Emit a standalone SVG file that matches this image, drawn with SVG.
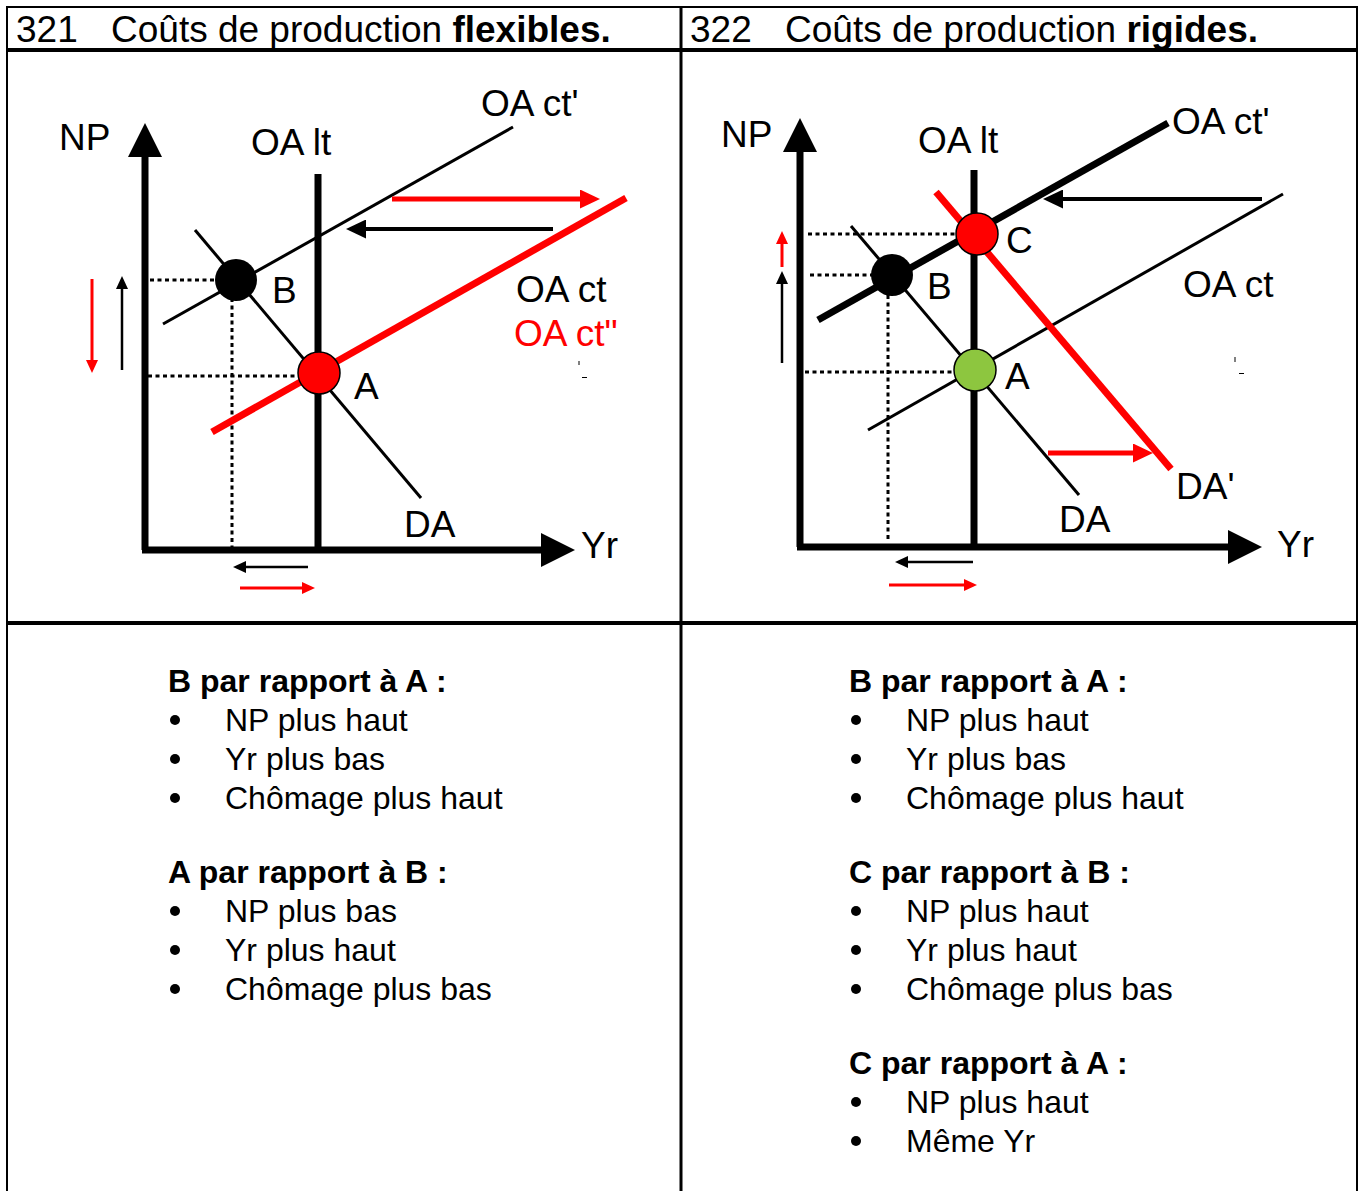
<svg xmlns="http://www.w3.org/2000/svg" width="1362" height="1191" viewBox="0 0 1362 1191">
<style>
text{font-family:"Liberation Sans",Arial,sans-serif;fill:#000}
.hd{font-size:37px}
.lb{font-size:37px}
.red{fill:#ff0000}
.bl{font-size:32px}
.bb{font-size:32px;font-weight:bold}
.grid{stroke:#000;fill:none}
.axis{stroke:#000;stroke-width:7;fill:none}
.thin{stroke:#000;stroke-width:3;fill:none}
.thick{stroke:#000;stroke-width:7;fill:none}
.rthick{stroke:#ff0000;stroke-width:7;fill:none}
.dot{stroke:#000;stroke-width:3;stroke-dasharray:4 3.5;fill:none}
.k4{stroke:#000;stroke-width:4;fill:none}
.r4{stroke:#ff0000;stroke-width:5;fill:none}
.ks{stroke:#000;stroke-width:2.5;fill:none}
.rs{stroke:#ff0000;stroke-width:3;fill:none}
.tick{stroke:#000;stroke-width:1;fill:none}
</style>
<defs>
<marker id="ah" markerUnits="userSpaceOnUse" markerWidth="34" markerHeight="34" refX="0" refY="17" orient="auto"><path d="M0,0 L34,17 L0,34 z" fill="#000"/></marker>
<marker id="mk" markerUnits="userSpaceOnUse" markerWidth="20" markerHeight="19" refX="0" refY="9.5" orient="auto"><path d="M0,0 L20,9.5 L0,19 z" fill="#000"/></marker>
<marker id="mr" markerUnits="userSpaceOnUse" markerWidth="20" markerHeight="19" refX="0" refY="9.5" orient="auto"><path d="M0,0 L20,9.5 L0,19 z" fill="#ff0000"/></marker>
<marker id="sk" markerUnits="userSpaceOnUse" markerWidth="13" markerHeight="12" refX="0" refY="6" orient="auto"><path d="M0,0 L13,6 L0,12 z" fill="#000"/></marker>
<marker id="sr" markerUnits="userSpaceOnUse" markerWidth="13" markerHeight="12" refX="0" refY="6" orient="auto"><path d="M0,0 L13,6 L0,12 z" fill="#ff0000"/></marker>
</defs>

<g id="table">
<line class="grid" stroke-width="2" x1="7" y1="7" x2="1357" y2="7"/>
<line class="grid" stroke-width="2" x1="7" y1="6" x2="7" y2="1191"/>
<line class="grid" stroke-width="2" x1="1357" y1="6" x2="1357" y2="1191"/>
<line class="grid" stroke-width="3" x1="681" y1="6" x2="681" y2="1191"/>
<line class="grid" stroke-width="4" x1="7" y1="50" x2="1357" y2="50"/>
<line class="grid" stroke-width="4" x1="7" y1="623" x2="1357" y2="623"/>
</g>

<g id="header-321"><text class="hd" y="42"><tspan x="16">321</tspan><tspan x="111">Coûts de production </tspan><tspan font-weight="bold">flexibles.</tspan></text></g>
<g id="header-322"><text class="hd" y="42"><tspan x="690">322</tspan><tspan x="785">Coûts de production </tspan><tspan font-weight="bold">rigides.</tspan></text></g>

<!-- LEFT CHART -->
<g id="connectors-left">
<line class="dot" x1="150" y1="280" x2="216" y2="280"/>
<line class="dot" x1="232" y1="298" x2="232" y2="548"/>
<line class="dot" x1="148" y1="376" x2="300" y2="376"/>
<line class="thin" x1="163" y1="324" x2="513" y2="127"/>
<line class="thin" x1="195" y1="230" x2="421" y2="498"/>
<line class="rthick" x1="212" y1="432" x2="626" y2="198"/>
<line class="thick" x1="318" y1="174" x2="318" y2="550"/>
<path class="axis" d="M145,550 V157" marker-end="url(#ah)"/>
<path class="axis" d="M142,550 H541" marker-end="url(#ah)"/>
<path class="k4" d="M553,229 H366" marker-end="url(#mk)"/>
<path class="r4" d="M392,199 H580" marker-end="url(#mr)"/>
<path class="rs" d="M92,279 V360" marker-end="url(#sr)"/>
<path class="ks" d="M122,370 V289" marker-end="url(#sk)"/>
<path class="ks" d="M308,567 H246" marker-end="url(#sk)"/>
<path class="rs" d="M240,588 H302" marker-end="url(#sr)"/>
<line class="tick" x1="579" y1="361" x2="579" y2="365"/>
<line class="tick" x1="582" y1="377.5" x2="587" y2="377.5"/>
</g>
<g id="point-B-left"><circle cx="236" cy="280" r="21" fill="#000"/><text class="lb" x="272" y="303">B</text></g>
<g id="point-A-left"><circle cx="319" cy="373" r="21" fill="#ff0000" stroke="#000" stroke-width="1.5"/><text class="lb" x="354" y="399">A</text></g>
<g id="labels-left">
<text class="lb" x="59" y="150">NP</text>
<text class="lb" x="251" y="155">OA lt</text>
<text class="lb" x="481" y="116">OA ct'</text>
<text class="lb" x="516" y="302">OA ct</text>
<text class="lb red" x="514" y="346">OA ct"</text>
<text class="lb" x="404" y="537">DA</text>
<text class="lb" x="581" y="558">Yr</text>
</g>

<!-- RIGHT CHART -->
<g id="connectors-right">
<line class="dot" x1="808" y1="234" x2="958" y2="234"/>
<line class="dot" x1="810" y1="275" x2="872" y2="275"/>
<line class="dot" x1="805" y1="372" x2="955" y2="372"/>
<line class="dot" x1="888" y1="295" x2="888" y2="542"/>
<line class="thin" x1="868" y1="430" x2="1283" y2="194"/>
<line class="thin" x1="851" y1="226" x2="1079" y2="495"/>
<line class="thick" x1="818" y1="320" x2="1168" y2="123"/>
<line class="rthick" x1="936" y1="192" x2="1171" y2="469"/>
<line class="thick" x1="974" y1="170" x2="974" y2="547"/>
<path class="axis" d="M800,547 V152" marker-end="url(#ah)"/>
<path class="axis" d="M797,547 H1228" marker-end="url(#ah)"/>
<path class="k4" d="M1262,199 H1063" marker-end="url(#mk)"/>
<path class="r4" d="M1048,453 H1133" marker-end="url(#mr)"/>
<path class="rs" d="M782,267 V244" marker-end="url(#sr)"/>
<path class="ks" d="M782,363 V284" marker-end="url(#sk)"/>
<path class="ks" d="M973,562 H908" marker-end="url(#sk)"/>
<path class="rs" d="M889,585 H964" marker-end="url(#sr)"/>
<line class="tick" x1="1235" y1="357" x2="1235" y2="362"/>
<line class="tick" x1="1239" y1="373.5" x2="1244" y2="373.5"/>
</g>
<g id="point-C-right"><circle cx="977" cy="234" r="21" fill="#ff0000" stroke="#000" stroke-width="1.5"/><text class="lb" x="1006" y="253">C</text></g>
<g id="point-B-right"><circle cx="892" cy="275" r="21" fill="#000"/><text class="lb" x="927" y="299">B</text></g>
<g id="point-A-right"><circle cx="975" cy="370" r="21" fill="#8dc63f" stroke="#000" stroke-width="1.5"/><text class="lb" x="1005" y="389">A</text></g>
<g id="labels-right">
<text class="lb" x="721" y="147">NP</text>
<text class="lb" x="918" y="153">OA lt</text>
<text class="lb" x="1172" y="134">OA ct'</text>
<text class="lb" x="1183" y="297">OA ct</text>
<text class="lb" x="1176" y="499">DA'</text>
<text class="lb" x="1059" y="532">DA</text>
<text class="lb" x="1277" y="557">Yr</text>
</g>

<!-- LISTS -->
<g id="list-left">
<text class="bb" x="168" y="692">B par rapport à A :</text>
<circle cx="175" cy="720" r="5"/><text class="bl" x="225" y="731">NP plus haut</text>
<circle cx="175" cy="759" r="5"/><text class="bl" x="225" y="770">Yr plus bas</text>
<circle cx="175" cy="798" r="5"/><text class="bl" x="225" y="809">Chômage plus haut</text>
<text class="bb" x="168" y="883">A par rapport à B :</text>
<circle cx="175" cy="911" r="5"/><text class="bl" x="225" y="922">NP plus bas</text>
<circle cx="175" cy="950" r="5"/><text class="bl" x="225" y="961">Yr plus haut</text>
<circle cx="175" cy="989" r="5"/><text class="bl" x="225" y="1000">Chômage plus bas</text>
</g>
<g id="list-right">
<text class="bb" x="849" y="692">B par rapport à A :</text>
<circle cx="856" cy="720" r="5"/><text class="bl" x="906" y="731">NP plus haut</text>
<circle cx="856" cy="759" r="5"/><text class="bl" x="906" y="770">Yr plus bas</text>
<circle cx="856" cy="798" r="5"/><text class="bl" x="906" y="809">Chômage plus haut</text>
<text class="bb" x="849" y="883">C par rapport à B :</text>
<circle cx="856" cy="911" r="5"/><text class="bl" x="906" y="922">NP plus haut</text>
<circle cx="856" cy="950" r="5"/><text class="bl" x="906" y="961">Yr plus haut</text>
<circle cx="856" cy="989" r="5"/><text class="bl" x="906" y="1000">Chômage plus bas</text>
<text class="bb" x="849" y="1074">C par rapport à A :</text>
<circle cx="856" cy="1102" r="5"/><text class="bl" x="906" y="1113">NP plus haut</text>
<circle cx="856" cy="1141" r="5"/><text class="bl" x="906" y="1152">Même Yr</text>
</g>
</svg>
